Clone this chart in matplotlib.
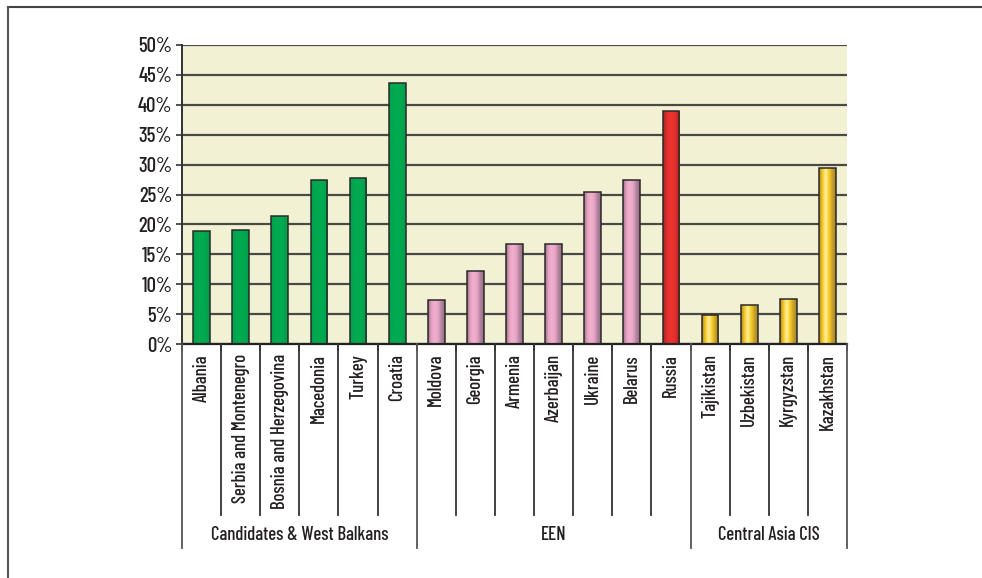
import matplotlib
matplotlib.use("Agg")
import matplotlib.pyplot as plt
import numpy as np
from matplotlib.colors import LinearSegmentedColormap
from matplotlib.transforms import blended_transform_factory
from matplotlib.lines import Line2D

plt.rcParams['font.family'] = ['Barlow Condensed', 'Roboto Condensed', 'IBM Plex Sans Condensed', 'DejaVu Sans']

countries = ["Albania", "Serbia and Montenegro", "Bosnia and Herzegovina", "Macedonia",
             "Turkey", "Croatia", "Moldova", "Georgia", "Armenia", "Azerbaijan",
             "Ukraine", "Belarus", "Russia", "Tajikistan", "Uzbekistan", "Kyrgyzstan",
             "Kazakhstan"]
values = [18.9, 19.1, 21.4, 27.5, 27.7, 43.6, 7.3, 12.2, 16.8, 16.8, 25.5, 27.4,
          39.0, 4.8, 6.6, 7.5, 29.4]
bar_style = ["green"] * 6 + ["pink"] * 6 + ["red"] + ["yellow"] * 4
groups = ["Candidates & West Balkans", "EEN", "Central Asia CIS"]
group_sizes = [6, 7, 4]
yticks = [0, 5, 10, 15, 20, 25, 30, 35, 40, 45, 50]
ytick_labels = ["0%", "5%", "10%", "15%", "20%", "25%", "30%", "35%", "40%", "45%", "50%"]

cmaps = {
    "green": LinearSegmentedColormap.from_list("g", ["#00a24c", "#00aa50", "#00aa50", "#009c48"]),
    "pink": LinearSegmentedColormap.from_list("p", ["#9c708a", "#e6a2c2", "#f2b0cf", "#e8a4c4", "#b2849e", "#946a84"]),
    "red": LinearSegmentedColormap.from_list("r", ["#a82024", "#e2302c", "#ea3530", "#de2e2b", "#a82226"]),
    "yellow": LinearSegmentedColormap.from_list("y", ["#b08a2a", "#f5c820", "#fff0a0", "#f8cc22", "#c8a02a", "#a0842e"]),
}
base = {"green": "#00aa50", "pink": "#e8a4c4", "red": "#e2302c", "yellow": "#f5c820"}

W, H = 982, 578
fig = plt.figure(figsize=(W / 100, H / 100), dpi=100)
ax = fig.add_axes([182 / W, 1 - 344 / H, (847 - 182) / W, (344 - 45) / H])
ax.set_facecolor("#f3f1d4")

x = np.arange(len(countries))
bw = 0.43
grad = np.linspace(0, 1, 64).reshape(1, -1)
for xi, v, st in zip(x, values, bar_style):
    rect = ax.bar(xi, v, width=bw, color=base[st], linewidth=0, zorder=3)[0]
    im = ax.imshow(grad, cmap=cmaps[st], aspect="auto",
                   extent=[xi - bw / 2, xi + bw / 2, 0, v], zorder=3.5,
                   interpolation="bilinear")
    im.set_clip_path(rect)
    ax.bar(xi, v, width=bw, fill=False, edgecolor="#2a2a2a", linewidth=1.1, zorder=4)

ax.set_xlim(-0.5, len(countries) - 0.5)
ax.set_ylim(0, 50)
ax.set_yticks(yticks)
ax.set_yticklabels(ytick_labels, fontsize=15, color="#231f20", fontweight="medium")
ax.yaxis.grid(True, color="#4a4a44", linewidth=1.6, zorder=1)
ax.set_axisbelow(True)
ax.tick_params(axis="y", length=4, width=1.2, color="#333", pad=3)
ax.set_xticks(np.arange(len(countries) + 1) - 0.5)
ax.set_xticklabels([])
ax.tick_params(axis="x", length=5, width=1.2, color="#333", direction="out")
for s in ["top", "right"]:
    ax.spines[s].set_visible(False)
ax.spines["left"].set_color("#333")
ax.spines["left"].set_linewidth(1.4)
ax.spines["bottom"].set_color("#222")
ax.spines["bottom"].set_linewidth(1.6)
ax.spines["bottom"].set_zorder(5)

def fig_y(py):
    return 1 - py / H

trans = blended_transform_factory(ax.transData, fig.transFigure)
bounds = np.cumsum([0] + group_sizes) - 0.5
for b in np.arange(len(countries) + 1) - 0.5:
    is_group = np.any(np.isclose(b, bounds))
    y_end = 548 if is_group else 515
    fig.add_artist(Line2D([b, b], [fig_y(344), fig_y(y_end)], transform=trans,
                          color="#555" if is_group else "#333", linewidth=1.3))
for xi, name in zip(x, countries):
    fig.text(xi, fig_y(354), name, transform=trans, rotation=90, ha="center", va="top",
             fontsize=13.5, color="#231f20", fontweight="medium")
for g, lo, hi in zip(groups, bounds[:-1], bounds[1:]):
    fig.text((lo + hi) / 2, fig_y(535), g, transform=trans, ha="center", va="center",
             fontsize=13.5, color="#231f20", fontweight="medium")

fig.add_artist(Line2D([8 / W, 1], [fig_y(7), fig_y(7)], transform=fig.transFigure,
                      color="#444", linewidth=1.5))
fig.add_artist(Line2D([8 / W, 8 / W], [fig_y(7), 0], transform=fig.transFigure,
                      color="#555", linewidth=1.5))

fig.savefig("out.png", dpi=100)
